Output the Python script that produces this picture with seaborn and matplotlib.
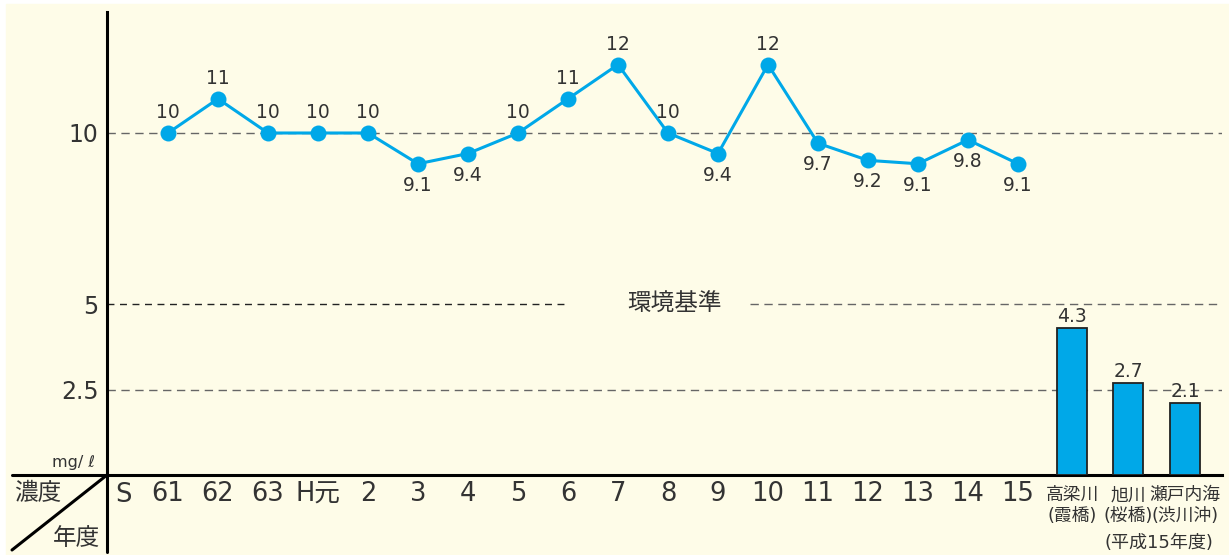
import matplotlib
matplotlib.use("Agg")
import matplotlib.pyplot as plt
from matplotlib.lines import Line2D
from matplotlib.patches import Rectangle
import pandas as pd
import seaborn as sns

# ── Data ────────────────────────────────────────────────────────────────────
years = ["61", "62", "63", "H元", "2", "3", "4", "5", "6", "7", "8", "9",
         "10", "11", "12", "13", "14", "15"]
bod = [10, 11, 10, 10, 10, 9.1, 9.4, 10, 11, 12, 10, 9.4,
       12, 9.7, 9.2, 9.1, 9.8, 9.1]
sites = ["高梁川\n(霞橋)", "旭川\n(桜橋)", "瀬戸内海\n(渋川沖)"]
site_vals = [4.3, 2.7, 2.1]
y_ticks = [2.5, 5, 10]
y_tick_labels = ["2.5", "5", "10"]
standard = 5

# ── Layout / style ──────────────────────────────────────────────────────────
W, H = 1229, 555
CREAM = "#FEFCE8"
BLUE = "#00A8E8"
TXT = "#333333"
bar_pos = [19.08, 20.2, 21.34]

sns.set_theme(style="white")
# wide latin digits from DejaVu, Japanese falls back to Noto CJK
plt.rcParams["font.family"] = ["DejaVu Sans", "Noto Sans CJK JP"]


def fx(px):
    return px / W


def fy(py):
    return 1 - py / H


fig = plt.figure(figsize=(W / 100, H / 100), dpi=100, facecolor="white")
fig.patches.append(Rectangle((fx(6), 0), 1 - fx(6), fy(4), transform=fig.transFigure,
                             color=CREAM, zorder=-10))

ax = fig.add_axes([fx(107), fy(475), fx(1222) - fx(107), fy(12) - fy(475)])
ax.set_facecolor("none")
ax.set_xlim(-0.22, 22.08)
ax.set_ylim(0, 463 / 34.2)

# reference lines
for yv in [2.5, 10]:
    ax.axhline(yv, color="#666666", lw=1, ls=(0, (6, 4)), zorder=1)
ax.plot([-0.22, 8.98], [standard, standard], color="#222222", lw=1, ls=(0, (5, 4)), zorder=1)
ax.plot([12.64, 22.08], [standard, standard], color="#666666", lw=1, ls=(0, (6, 4)), zorder=1)
ax.text(11.14, standard, "環境基準", ha="center", va="center", fontsize=17, color=TXT)

# line series
df = pd.DataFrame({"pos": range(1, len(years) + 1), "val": bod, "year": years})
sns.lineplot(data=df, x="pos", y="val", ax=ax, color=BLUE, lw=2.2, marker="o",
             markersize=11.5, markeredgewidth=0, zorder=3)
for p, v in zip(df["pos"], df["val"]):
    off = -15.5 if v < 10 else 14.5
    ax.annotate(f"{v:g}", (p, v), xytext=(0, off), textcoords="offset points",
                ha="center", va="center", fontsize=13.5, color=TXT)

# bars
ax.bar(bar_pos, site_vals, width=0.6, color=BLUE, edgecolor="#222222", lw=1.3, zorder=3)
for p, v in zip(bar_pos, site_vals):
    ax.annotate(f"{v:g}", (p, v), xytext=(0, 1.5), textcoords="offset points",
                ha="center", va="bottom", fontsize=13.5, color=TXT)
for p, s in zip(bar_pos, sites):
    ax.annotate(s, (p, 0), xytext=(0, -8), textcoords="offset points",
                ha="center", va="top", fontsize=12.8, color=TXT, linespacing=1.2)

# axes
for side in ["top", "right"]:
    ax.spines[side].set_visible(False)
for side in ["left", "bottom"]:
    ax.spines[side].set_color("black")
    ax.spines[side].set_linewidth(2.2)
ax.set_yticks(y_ticks)
ax.set_yticklabels(y_tick_labels, fontsize=17, color=TXT)
ax.set_xticks(list(df["pos"]))
ax.set_xticklabels(years, fontsize=18.5, color=TXT)
ax.tick_params(axis="x", direction="in", length=6, width=1.2, color="#222222", pad=4)
ax.tick_params(axis="y", length=0, pad=6)
ax.annotate("S", (0.1, 0), xytext=(0, -5.3), textcoords="offset points",
            ha="center", va="top", fontsize=18.5, color=TXT)
ax.set_xlabel("")
ax.set_ylabel("")

# corner: axis extensions and diagonal
fig.add_artist(Line2D([fx(107), fx(107)], [fy(475), fy(552)], color="black", lw=2.2))
fig.add_artist(Line2D([fx(12), fx(107)], [fy(475), fy(475)], color="black", lw=2.2))
fig.add_artist(Line2D([fx(12), fx(107)], [fy(550), fy(475)], color="black", lw=2.2))
fig.text(fx(95), fy(462), "mg/ ℓ", fontsize=11.5, color=TXT, ha="right", va="center")
fig.text(fx(38), fy(493), "濃度", fontsize=17, color=TXT, ha="center", va="center")
fig.text(fx(77), fy(538), "年度", fontsize=17, color=TXT, ha="center", va="center")
fig.text(fx(1159), fy(543), "(平成15年度)", fontsize=13, color=TXT, ha="center", va="center")

fig.savefig("out.png", dpi=100, facecolor=fig.get_facecolor())
